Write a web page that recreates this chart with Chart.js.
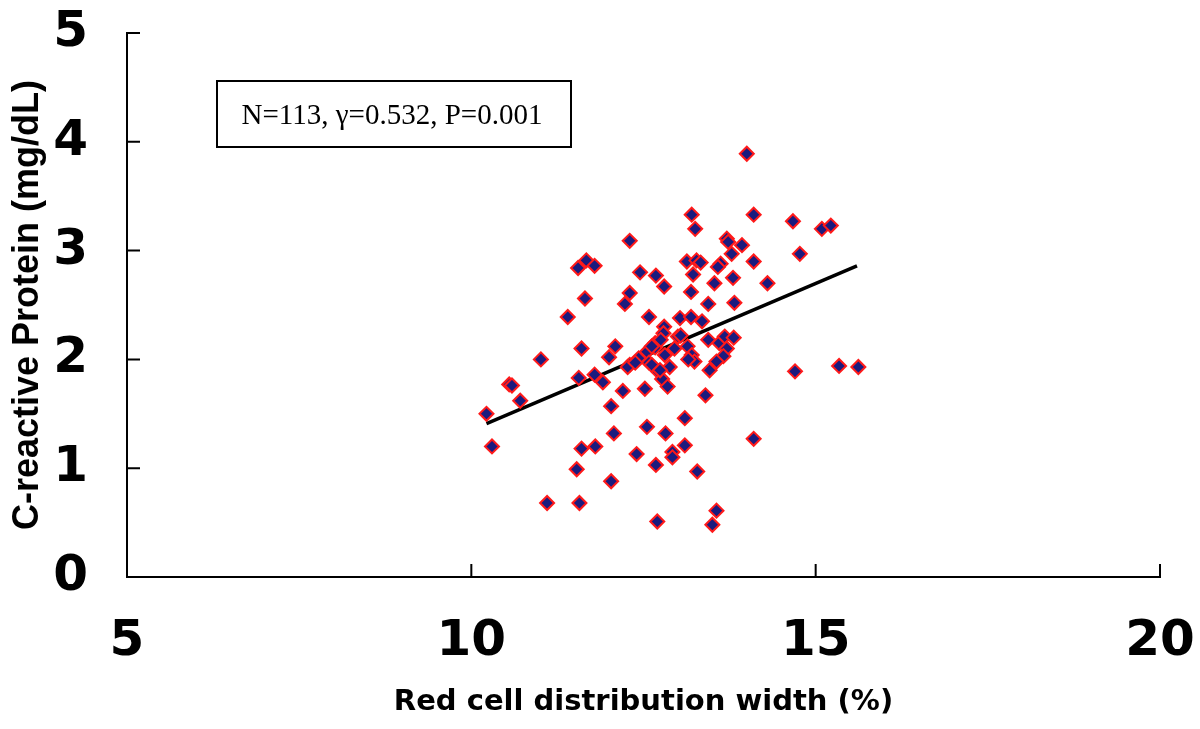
<!DOCTYPE html>
<html>
<head>
<meta charset="utf-8">
<script src="https://cdn.jsdelivr.net/npm/chart.js@4/dist/chart.umd.min.js"></script>
<style>
  html, body { margin: 0; padding: 0; background: #fff; }
  #wrap { width: 1200px; height: 729px; }
</style>
</head>
<body>
<div id="wrap"><canvas id="rdwChart" width="1200" height="729"></canvas></div>
<script>
// Red cell distribution width (%) vs C-reactive protein (mg/dL)
const rdw = [
  14.00, 13.20, 14.10, 14.67, 15.09, 15.22, 13.25, 12.30, 13.71, 13.73,
  13.93, 13.78, 14.77, 11.67, 11.55, 11.79, 13.13, 13.27, 13.33, 13.62,
  13.58, 14.10, 12.45, 12.68, 12.80, 13.22, 13.80, 13.53, 14.30, 13.19,
  11.65, 12.30, 12.23, 13.44, 13.82, 11.40, 12.58, 13.03, 13.19, 13.35,
  12.80, 12.79, 13.00, 13.44, 13.60, 13.68, 13.81, 13.71, 13.66, 13.56,
  13.46, 13.14, 13.20, 13.24, 12.67, 12.81, 12.55, 12.67, 12.43, 12.30,
  12.58, 12.71, 12.88, 12.77, 12.85, 12.52, 12.20, 12.09, 12.00, 11.60,
  11.01, 10.55, 10.59, 10.71, 10.22, 10.30, 11.56, 11.79, 11.91, 12.03,
  13.40, 13.10, 14.70, 15.34, 15.62, 12.07, 12.55, 12.82, 11.60, 11.80,
  12.40, 12.92, 12.92, 13.10, 14.10, 11.53, 12.68, 13.28, 12.03, 11.10,
  11.57, 13.56, 13.50, 12.70, 12.27, 12.62, 12.38, 13.04, 12.95, 12.62,
  12.75, 13.15, 12.74
];
const crp = [
  3.89, 3.33, 3.33, 3.27, 3.20, 3.23, 3.20, 3.09, 3.11, 3.08,
  3.05, 2.97, 2.97, 2.91, 2.84, 2.86, 2.90, 2.91, 2.89, 2.88,
  2.85, 2.90, 2.80, 2.77, 2.67, 2.78, 2.75, 2.70, 2.70, 2.62,
  2.56, 2.61, 2.51, 2.51, 2.52, 2.39, 2.39, 2.38, 2.39, 2.35,
  2.30, 2.24, 2.21, 2.18, 2.15, 2.21, 2.20, 2.10, 2.03, 1.98,
  1.90, 2.12, 2.04, 1.98, 2.15, 2.04, 2.07, 2.11, 2.01, 1.95,
  1.97, 1.89, 1.93, 1.82, 1.75, 1.73, 1.71, 2.12, 2.02, 2.10,
  2.00, 1.77, 1.76, 1.62, 1.50, 1.20, 1.83, 1.86, 1.79, 1.57,
  1.67, 1.46, 1.89, 1.94, 1.93, 1.32, 1.38, 1.32, 1.18, 1.20,
  1.13, 1.15, 1.10, 1.21, 1.27, 0.99, 1.03, 0.97, 0.88, 0.68,
  0.68, 0.61, 0.48, 0.51, 1.93, 2.12, 1.97, 2.22, 2.10, 1.95,
  2.18, 2.00, 1.90
];

// regression line end points
const fitX = [10.22, 15.6];
const fitY = [1.41, 2.86];

const xTicks = [5, 10, 15, 20];
const yTicks = [0, 1, 2, 3, 4, 5];

const statsText = "N=113, \u03b3=0.532, P=0.001";

const points = rdw.map((x, i) => ({ x: x, y: crp[i] }));
const fitLine = fitX.map((x, i) => ({ x: x, y: fitY[i] }));

// inward tick marks + stats box
const extrasPlugin = {
  id: "extras",
  afterDraw(chart) {
    const ctx = chart.ctx
    const xs = chart.scales.x
    const ys = chart.scales.y
    const area = chart.chartArea

    ctx.save()
    ctx.strokeStyle = "#000"
    ctx.lineWidth = 2
    ctx.beginPath()
    yTicks.forEach((v) => {
      if (v === 0) return
      const py = ys.getPixelForValue(v)
      ctx.moveTo(area.left, py)
      ctx.lineTo(area.left + 13, py)
    })
    xTicks.forEach((v) => {
      if (v === xTicks[0]) return
      const px = xs.getPixelForValue(v)
      ctx.moveTo(px, area.bottom)
      ctx.lineTo(px, area.bottom - 13)
    })
    ctx.stroke()

    // stats box
    const bx = area.left + 90
    const by = area.top + 48
    ctx.lineWidth = 2
    ctx.strokeRect(bx, by, 354, 66)
    ctx.fillStyle = "#000"
    ctx.font = "29px 'Liberation Serif', 'Times New Roman', serif"
    ctx.textAlign = "center"
    ctx.textBaseline = "middle"
    ctx.fillText(statsText, bx + 175, by + 35)
    ctx.restore()
  },
}

const config = {
  type: "scatter",
  data: {
    datasets: [
      {
        label: "CRP",
        data: points,
        pointStyle: "rectRot",
        pointRadius: 7,
        pointBackgroundColor: "#1b1b7e",
        pointBorderColor: "#ff1a1a",
        pointBorderWidth: 2,
        pointHoverRadius: 7,
      },
      {
        label: "fit",
        type: "line",
        data: fitLine,
        borderColor: "#000",
        borderWidth: 3.5,
        pointRadius: 0,
        fill: false,
      },
    ],
  },
  options: {
    responsive: false,
    devicePixelRatio: 1,
    animation: false,
    layout: {
      padding: { left: 0, right: 40, top: 33, bottom: 0 },
    },
    plugins: {
      legend: { display: false },
      tooltip: { enabled: false },
    },
    scales: {
      x: {
        type: "linear",
        min: 5,
        max: 20,
        afterBuildTicks: (scale) => {
          scale.ticks = xTicks.map((v) => ({ value: v }))
        },
        afterFit: (scale) => {
          scale.height = 152
          scale.paddingLeft = 0
          scale.paddingRight = 0
        },
        grid: { display: false, drawTicks: false },
        border: { display: true, color: "#000", width: 2 },
        ticks: {
          color: "#000",
          padding: 40,
          font: { family: "'DejaVu Sans', Verdana, sans-serif", size: 50, weight: "bold", lineHeight: 1 },
        },
        title: {
          display: true,
          text: "Red cell distribution width (%)",
          color: "#000",
          padding: { top: 0, bottom: 9 },
          font: { family: "'DejaVu Sans', Verdana, sans-serif", size: 29, weight: "bold", lineHeight: 1.2 },
        },
      },
      y: {
        type: "linear",
        min: 0,
        max: 5,
        afterBuildTicks: (scale) => {
          scale.ticks = yTicks.map((v) => ({ value: v }))
        },
        afterFit: (scale) => {
          scale.width = 127
          scale.paddingTop = 0
          scale.paddingBottom = 0
        },
        grid: { display: false, drawTicks: false },
        border: { display: true, color: "#000", width: 2 },
        ticks: {
          color: "#000",
          padding: 39,
          font: { family: "'DejaVu Sans', Verdana, sans-serif", size: 50, weight: "bold", lineHeight: 1 },
        },
        title: {
          display: true,
          text: "C-reactive Protein (mg/dL)",
          color: "#000",
          padding: { top: 6, bottom: 0 },
          font: { family: "'Liberation Sans', Arial, sans-serif", size: 36, weight: "bold", lineHeight: 1.2 },
        },
      },
    },
  },
  plugins: [extrasPlugin],
}

new Chart(document.getElementById("rdwChart"), config)
</script>
</body>
</html>
